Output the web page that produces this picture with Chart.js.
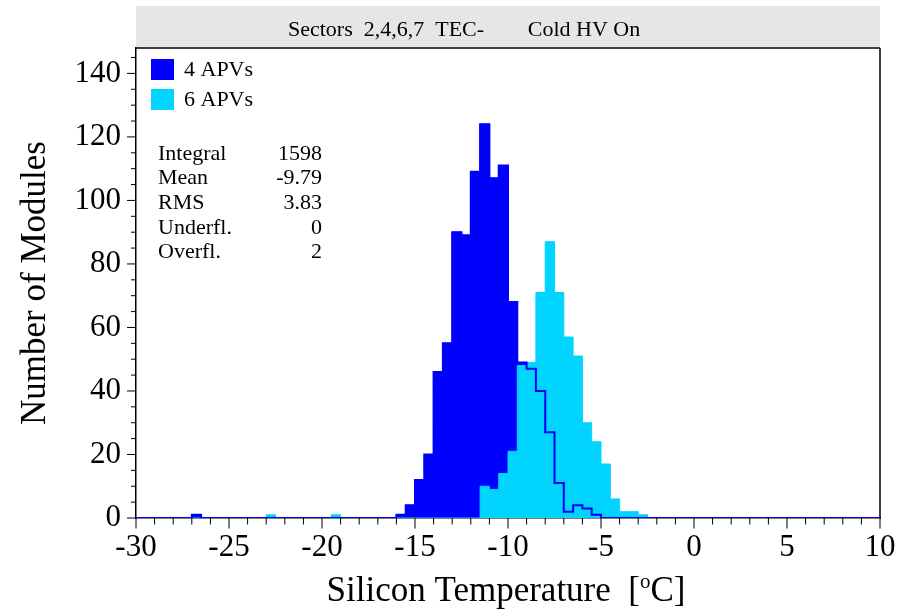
<!DOCTYPE html>
<html>
  <script src="https://cdn.jsdelivr.net/npm/chart.js"></script>
  <body style="margin: 0; background: #fff">
    <canvas id="myChart" width="909" height="609"></canvas>

    <script>
      const ctx = document.getElementById('myChart');

      // histogram binning: 80 bins of 0.5 degC from -30 to 10
      const binStart = -30;
      const binWidth = 0.5;

      // module counts per bin
      const apv4 = [
        0, 0, 0, 0, 0, 0, 1, 0, 0, 0,
        0, 0, 0, 0, 0, 0, 0, 0, 0, 0,
        0, 0, 0, 0, 0, 0, 0, 0, 1, 4,
        12, 20, 46, 55, 90, 89, 109, 124, 107, 111,
        68, 49, 47, 40, 27, 11, 2, 4, 3, 1,
        0, 0, 0, 0, 0, 0, 0, 0, 0, 0,
        0, 0, 0, 0, 0, 0, 0, 0, 0, 0,
        0, 0, 0, 0, 0, 0, 0, 0, 0, 0
      ];
      const apv6 = [
        0, 0, 0, 0, 0, 0, 0, 0, 0, 0,
        0, 0, 0, 0, 1, 0, 0, 0, 0, 0,
        0, 1, 0, 0, 0, 0, 0, 0, 0, 0,
        0, 0, 0, 0, 0, 0, 0, 10, 9, 14,
        21, 48, 49, 71, 87, 71, 57, 51, 30, 24,
        17, 6, 2, 2, 1, 0, 0, 0, 0, 0,
        0, 0, 0, 0, 0, 0, 0, 0, 0, 0,
        0, 0, 0, 0, 0, 0, 0, 0, 0, 0
      ];

      const xTickValues = [-30, -25, -20, -15, -10, -5, 0, 5, 10];
      const yTickValues = [0, 20, 40, 60, 80, 100, 120, 140];

      const statLabels = ['Integral', 'Mean', 'RMS', 'Underfl.', 'Overfl.'];
      const statValues = ['1598', '-9.79', '3.83', '0', '2'];

      const titleParts = ['Sectors  2,4,6,7  TEC-', 'Cold HV On'];

      const blue = '#0000ff';
      const cyan = '#00d4ff';
      const serif = "'Liberation Serif', 'Times New Roman', serif";

      // points at lower bin edges, plus closing point at the last upper edge
      function toPoints(counts) {
        var pts = counts.map(function (c, i) {
          return { x: binStart + i * binWidth, y: c };
        });
        pts.push({ x: binStart + counts.length * binWidth, y: counts[counts.length - 1] });
        return pts;
      }

      function line(c, x1, y1, x2, y2) {
        c.beginPath();
        c.moveTo(x1, y1);
        c.lineTo(x2, y2);
        c.stroke();
      }

      const decorations = {
        id: 'decorations',
        beforeDraw(chart) {
          const c = chart.ctx;
          const a = chart.chartArea;
          c.save();
          c.fillStyle = '#e6e6e6';
          c.fillRect(a.left, 6, a.right - a.left, 41);
          c.fillStyle = '#000';
          c.font = '22px ' + serif;
          c.textAlign = 'center';
          c.textBaseline = 'middle';
          c.fillText(titleParts[0], 386, 30);
          c.fillText(titleParts[1], 584, 30);
          c.restore();
        },
        afterDraw(chart) {
          const c = chart.ctx;
          const a = chart.chartArea;
          const xs = chart.scales.x;
          const ys = chart.scales.y;
          c.save();
          c.strokeStyle = '#000';

          // frame top and right
          c.lineWidth = 1.5;
          line(c, a.left, a.top, a.right, a.top);
          line(c, a.right, a.top, a.right, a.bottom);

          // tick marks, major and minor
          c.lineWidth = 1;
          for (let v = xs.min; v <= xs.max; v += 1) {
            const px = xs.getPixelForValue(v);
            line(c, px, a.bottom, px, a.bottom + (v % 5 === 0 ? 10.5 : 6.5));
          }
          for (let v = 0; v <= ys.max; v += 5) {
            const py = ys.getPixelForValue(v);
            line(c, a.left - (v % 20 === 0 ? 9 : 5), py, a.left, py);
          }

          // legend
          const legend = [chart.data.datasets[2], chart.data.datasets[1]];
          c.font = '22px ' + serif;
          c.textBaseline = 'middle';
          c.textAlign = 'left';
          legend.forEach(function (ds, i) {
            c.fillStyle = ds.backgroundColor;
            c.fillRect(151, 59 + i * 30, 23, 21);
            c.fillStyle = '#000';
            c.fillText(ds.label, 184, 70 + i * 30);
          });

          // statistics box
          statLabels.forEach(function (lab, i) {
            const y = 154 + i * 24.6;
            c.textAlign = 'left';
            c.fillText(lab, 158, y);
            c.textAlign = 'right';
            c.fillText(statValues[i], 322, y);
          });

          // x axis title with superscript o
          const big = '35px ' + serif;
          const small = '21px ' + serif;
          const p1 = 'Silicon Temperature  [';
          const p2 = 'o';
          const p3 = 'C]';
          c.font = big;
          const w1 = c.measureText(p1).width;
          const w3 = c.measureText(p3).width;
          c.font = small;
          const w2 = c.measureText(p2).width;
          let x = 506 - (w1 + w2 + w3) / 2;
          const base = 601;
          c.textAlign = 'left';
          c.textBaseline = 'alphabetic';
          c.font = big;
          c.fillText(p1, x, base);
          c.font = small;
          c.fillText(p2, x + w1, base - 13);
          c.font = big;
          c.fillText(p3, x + w1 + w2, base);
          c.restore();
        }
      };

      new Chart(ctx, {
        type: 'line',
        data: {
          datasets: [
            {
              label: '4 APVs outline',
              data: toPoints(apv4),
              stepped: 'before',
              borderColor: blue,
              borderWidth: 2,
              fill: false,
              pointRadius: 0,
              order: 0
            },
            {
              label: '6 APVs',
              data: toPoints(apv6),
              stepped: 'before',
              borderColor: cyan,
              borderWidth: 1,
              backgroundColor: cyan,
              fill: 'origin',
              pointRadius: 0,
              order: 1
            },
            {
              label: '4 APVs',
              data: toPoints(apv4),
              stepped: 'before',
              borderColor: blue,
              borderWidth: 1,
              backgroundColor: blue,
              fill: 'origin',
              pointRadius: 0,
              order: 2
            }
          ]
        },
        options: {
          responsive: false,
          animation: false,
          devicePixelRatio: 1,
          layout: { padding: { top: 48, right: 29, left: 0, bottom: 0 } },
          plugins: {
            legend: { display: false },
            tooltip: { enabled: false }
          },
          scales: {
            x: {
              type: 'linear',
              min: -30,
              max: 10,
              afterBuildTicks: function (scale) {
                scale.ticks = xTickValues.map(function (v) { return { value: v }; });
              },
              afterFit: function (scale) { scale.height = 91; },
              grid: { display: false, drawTicks: false },
              border: { display: true, color: '#000', width: 1.5 },
              ticks: {
                color: '#000',
                padding: 11,
                maxRotation: 0,
                autoSkip: false,
                font: { family: serif, size: 31 }
              }
            },
            y: {
              type: 'linear',
              min: 0,
              max: 148,
              afterBuildTicks: function (scale) {
                scale.ticks = yTickValues.map(function (v) { return { value: v }; });
              },
              afterFit: function (scale) { scale.width = 136; },
              grid: { display: false, drawTicks: false },
              border: { display: true, color: '#000', width: 1.5 },
              ticks: {
                color: '#000',
                padding: 15,
                font: { family: serif, size: 31 }
              },
              title: {
                display: true,
                text: 'Number of Modules',
                color: '#000',
                padding: { top: 15, bottom: 0 },
                font: { family: serif, size: 35, lineHeight: 1.2 }
              }
            }
          }
        },
        plugins: [decorations]
      });
    </script>
  </body>
</html>
